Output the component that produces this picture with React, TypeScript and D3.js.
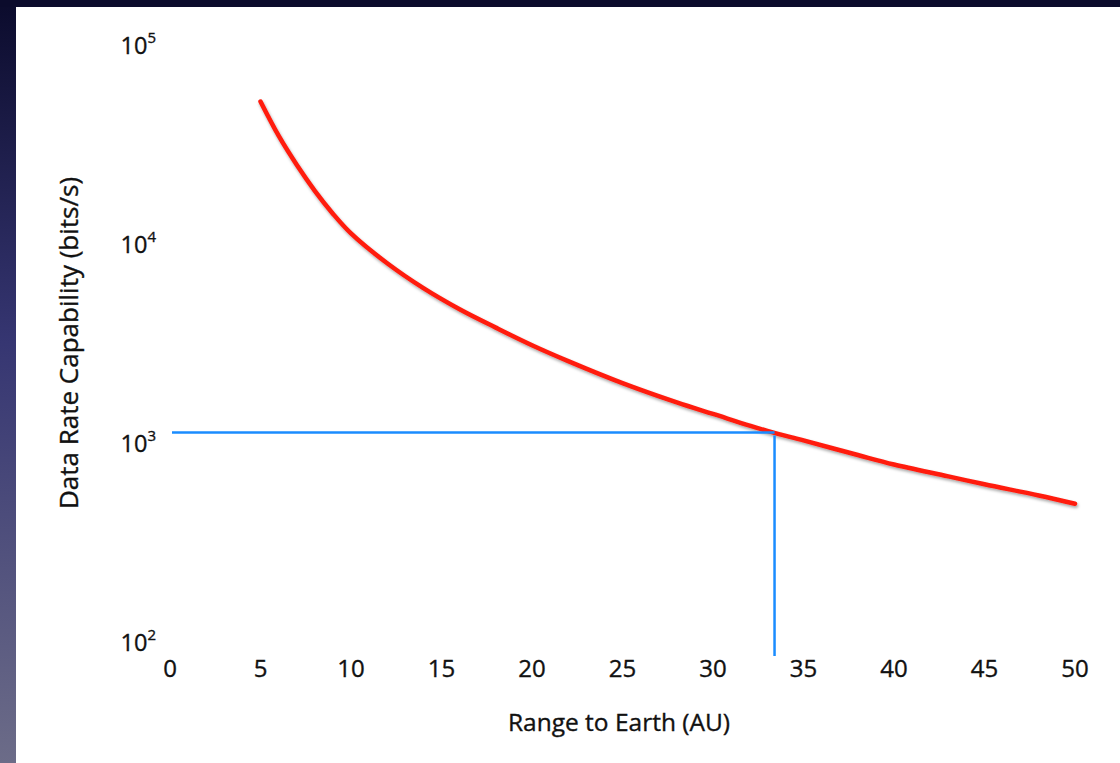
import React from "react";
import * as d3 from "d3";

const rangeAU: number[] = [5, 6, 7, 8, 9, 10, 12, 14, 16, 18, 20, 22, 25, 28, 30, 33, 35, 38, 40, 43, 45, 48, 50];
const dataRate: number[] = [52000, 35000, 25000, 18500, 14200, 11300, 8000, 6000, 4700, 3800, 3100, 2580, 2000, 1600, 1400, 1150, 1030, 870, 780, 680, 620, 545, 495];
const xTicks: number[] = [0, 5, 10, 15, 20, 25, 30, 35, 40, 45, 50];
const yTickExponents: number[] = [2, 3, 4, 5];
const markerX = 33.4;
const markerY = 1130;

const W = 1120;
const H = 763;

export default function App() {
  const x = d3.scaleLinear().domain([0, 50]).range([170, 1075]);
  const y = d3.scaleLog().domain([100, 100000]).range([642, 45]);
  const pts: [number, number][] = rangeAU.map((r, i) => [r, dataRate[i]]);
  const line = d3
    .line<[number, number]>()
    .x((d) => x(d[0]))
    .y((d) => y(d[1]))
    .curve(d3.curveCatmullRom.alpha(0.5));
  const font = "'Open Sans', sans-serif";
  const yBottom = y.range()[0];
  const txt = { fontFamily: font, fill: "#111", stroke: "#111", strokeWidth: 0.35 };
  return (
    <div style={{ position: "absolute", left: 0, top: 0 }}>
      <svg width={W} height={H} style={{ display: "block" }}>
        <defs>
          <linearGradient id="leftStrip" x1="0" y1="0" x2="0" y2="1">
            <stop offset="0" stopColor="#0b0b2c" />
            <stop offset="0.45" stopColor="#363672" />
            <stop offset="1" stopColor="#6c6c88" />
          </linearGradient>
          <filter id="shadow" x="-5%" y="-5%" width="110%" height="110%">
            <feDropShadow dx="1" dy="2" stdDeviation="1.5" floodColor="#000" floodOpacity="0.35" />
          </filter>
        </defs>
        <rect x={0} y={0} width={W} height={H} fill="#ffffff" />
        <rect x={0} y={0} width={16} height={H} fill="url(#leftStrip)" />
        <rect x={0} y={0} width={W} height={7} fill="#0b0b2c" />

        {yTickExponents.map((e) => (
          <text key={e} x={156} y={y(Math.pow(10, e)) + 9} textAnchor="end" fontSize={23.5} {...txt}>
            10
            <tspan fontSize={15} dy={-11}>
              {e}
            </tspan>
          </text>
        ))}

        {xTicks.map((t) => (
          <text key={t} x={x(t)} y={677} textAnchor="middle" fontSize={24} {...txt}>
            {t}
          </text>
        ))}

        <text x={619} y={731} textAnchor="middle" fontSize={24.5} {...txt}>
          Range to Earth (AU)
        </text>
        <text transform={`translate(78,343) rotate(-90)`} textAnchor="middle" fontSize={26} {...txt}>
          Data Rate Capability (bits/s)
        </text>

        <path
          d={line(pts) || ""}
          fill="none"
          stroke="#ff1a0d"
          strokeWidth={4.5}
          strokeLinecap="round"
          filter="url(#shadow)"
        />

        <line
          x1={x(0) + 2}
          x2={x(markerX)}
          y1={y(markerY)}
          y2={y(markerY)}
          stroke="#1a8cff"
          strokeWidth={2.5}
        />
        <line
          x1={x(markerX)}
          x2={x(markerX)}
          y1={y(markerY) + 3}
          y2={yBottom + 14}
          stroke="#1a8cff"
          strokeWidth={2.5}
        />
      </svg>
    </div>
  );
}
